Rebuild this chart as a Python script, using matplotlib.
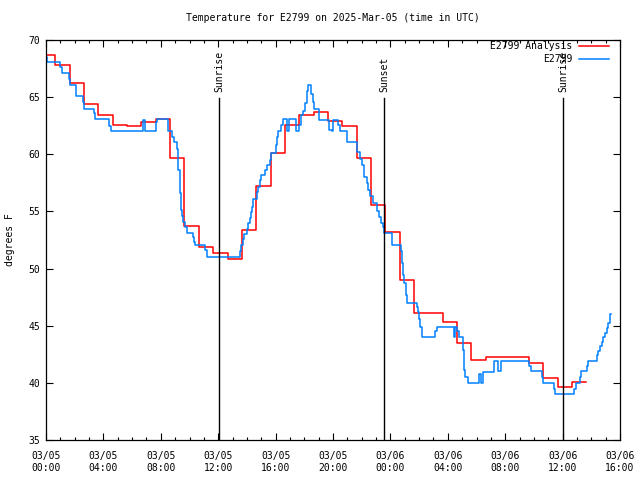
import matplotlib
matplotlib.use("Agg")
import matplotlib.pyplot as plt
import matplotlib.transforms as mtransforms

# hours since 2025-03-05 00:00 UTC
analysis_hours = [0, 0.65, 1.65, 2.65, 3.65, 4.65, 5.65, 6.65, 7.65, 8.65, 9.65,
                  10.65, 11.65, 12.65, 13.65, 14.65, 15.65, 16.65, 17.65, 18.65,
                  19.65, 20.65, 21.65, 22.65, 23.65, 24.65, 25.65, 26.65, 27.65,
                  28.65, 29.65, 30.65, 31.65, 32.65, 33.65, 34.65, 35.65, 36.65, 37.65]
analysis_temp = [68.7, 67.8, 66.2, 64.4, 63.4, 62.6, 62.5, 62.8, 63.1, 59.7, 53.7,
                 51.9, 51.4, 50.8, 53.4, 57.2, 60.1, 62.6, 63.4, 63.7,
                 62.9, 62.5, 59.7, 55.6, 53.2, 49.0, 46.1, 46.1, 45.3,
                 43.5, 42.0, 42.25, 42.25, 42.25, 41.7, 40.4, 39.6, 40.05, 40.05]

obs_hours = [0.0, 0.09, 1.0, 1.14, 1.60, 1.67, 2.07, 2.11, 2.60, 2.67, 3.34, 3.41,
             4.41, 4.51, 6.78, 6.88, 7.69, 7.76, 8.52, 8.80, 8.94, 9.15, 9.22, 9.36,
             9.43, 9.50, 9.57, 9.71, 9.85, 10.26, 10.33, 10.40, 11.10, 11.24, 13.52,
             13.59, 13.71, 13.80, 14.03, 14.10, 14.22, 14.29, 14.36, 14.45, 14.68,
             14.75, 14.91, 14.98, 15.28, 15.42, 15.61, 15.68, 16.01, 16.08, 16.15,
             16.36, 16.54, 16.77, 16.95, 17.42, 17.61, 17.75, 17.93, 18.05, 18.17,
             18.28, 18.45, 18.59, 18.68, 19.00, 19.74, 19.91, 20.02, 20.37, 20.49,
             21.00, 21.69, 21.88, 22.00, 22.16, 22.35, 22.44, 22.58, 22.77, 23.09,
             23.23, 23.32, 23.51, 23.57, 24.09, 24.74, 24.79, 24.86, 24.93, 25.07,
             25.14, 25.83, 25.90, 25.97, 26.04, 26.18, 27.11, 27.23, 28.43, 28.52,
             28.66, 28.76, 29.08, 29.15, 29.22, 29.43, 30.19, 30.29, 30.47, 31.22,
             31.52, 31.71, 33.68, 33.78, 34.54, 34.61, 35.42, 35.49, 36.82, 36.93,
             37.21, 37.28, 37.68, 37.79, 38.38, 38.49, 38.61, 38.75, 38.84, 38.95,
             39.07, 39.16, 39.30, 39.37]
obs_temp = [68.5, 68.05, 67.67, 67.08, 66.6, 66.06, 65.57, 65.1, 64.6, 64.0, 63.6, 63.06,
            62.5, 62.04, 63.0, 62.04, 62.85, 63.06, 62.04, 61.5, 61.05, 60.5, 58.6, 56.6,
            55.1, 54.6, 54.1, 53.67, 53.1, 52.8, 52.3, 52.06, 51.6, 51.0, 51.5,
            52.06, 52.6, 53.0, 53.5, 53.96, 54.4, 54.98, 55.4, 56.06, 56.7,
            57.17, 57.75, 58.2, 58.6, 59.06, 59.5, 60.1, 60.8, 61.5, 62.0,
            62.56, 63.06, 62.04, 63.06, 62.04, 62.56, 63.44, 63.8, 64.5, 65.5,
            66.06, 65.3, 64.6, 64.0, 63.0, 62.1, 62.0, 63.0, 62.56, 62.0,
            61.1, 60.2, 59.6, 59.06, 58.04, 57.46, 56.9, 56.35, 55.7, 55.0,
            54.5, 54.0, 53.67, 53.1, 52.06, 51.5, 50.46, 49.4, 48.7, 47.7,
            46.96, 46.67, 46.2, 45.6, 44.9, 44.04, 44.5, 44.9, 44.04, 44.9,
            44.5, 44.04, 42.9, 41.1, 40.5, 39.96, 40.8, 39.96, 40.98, 41.94,
            41.06, 41.94, 41.47, 41.04, 40.5, 39.96, 39.44, 39.0, 39.44, 39.96,
            40.5, 41.04, 41.47, 41.94, 42.4, 42.8, 43.2, 43.6, 44.0, 44.4,
            44.8, 45.2, 46.0, 46.0]

event_hours = [12.07, 23.57, 36.06]
event_labels = ["Sunrise", "Sunset", "Sunrise"]

tick_hours = [0, 4, 8, 12, 16, 20, 24, 28, 32, 36, 40]
tick_labels = ["03/05\n00:00", "03/05\n04:00", "03/05\n08:00", "03/05\n12:00",
               "03/05\n16:00", "03/05\n20:00", "03/06\n00:00", "03/06\n04:00",
               "03/06\n08:00", "03/06\n12:00", "03/06\n16:00"]
ytick_vals = [35, 40, 45, 50, 55, 60, 65, 70]

plt.rcParams['font.family'] = ['DejaVu Sans Mono']
plt.rcParams['font.size'] = 7

fig = plt.figure(figsize=(6.4, 4.8), dpi=100)
ax = fig.add_axes([46 / 640, 40 / 480, 574 / 640, 400 / 480])

ax.step(analysis_hours, analysis_temp, where='post', color='#ff0000', lw=1.1, label='E2799 Analysis')
ax.step(obs_hours, obs_temp, where='post', color='#0080ff', lw=1.1, label='E2799')

trans = mtransforms.blended_transform_factory(ax.transData, ax.transAxes)
for h, lab in zip(event_hours, event_labels):
    ax.axvline(h, ymin=0, ymax=0.855, color='black', lw=1.0)
    ax.text(h, 0.87, lab, rotation=90, ha='center', va='bottom', transform=trans)

ax.set_xlim(0, 40)
ax.set_ylim(35, 70)
ax.set_xticks(tick_hours, tick_labels)
ax.set_xticks(range(0, 41), minor=True)
ax.set_yticks(ytick_vals)
ax.tick_params(which='major', direction='in', top=True, right=True, length=5, width=0.8)
ax.tick_params(which='minor', direction='in', top=True, right=False, length=2.5, width=0.8)
ax.tick_params(axis='x', which='major', pad=8)
ax.tick_params(axis='y', which='major', pad=4)
for s in ax.spines.values():
    s.set_linewidth(0.9)

ax.set_ylabel('degrees F', labelpad=10)
ax.set_title('Temperature for E2799 on 2025-Mar-05 (time in UTC)', fontsize=7, pad=14)

ax.legend(loc='upper right', bbox_to_anchor=(1 - 10 / 574, 1), borderaxespad=0.0,
          borderpad=0.15, handlelength=3.0, handletextpad=0.7, labelspacing=0.3,
          frameon=False, markerfirst=False)

fig.savefig('out.png', dpi=100)
